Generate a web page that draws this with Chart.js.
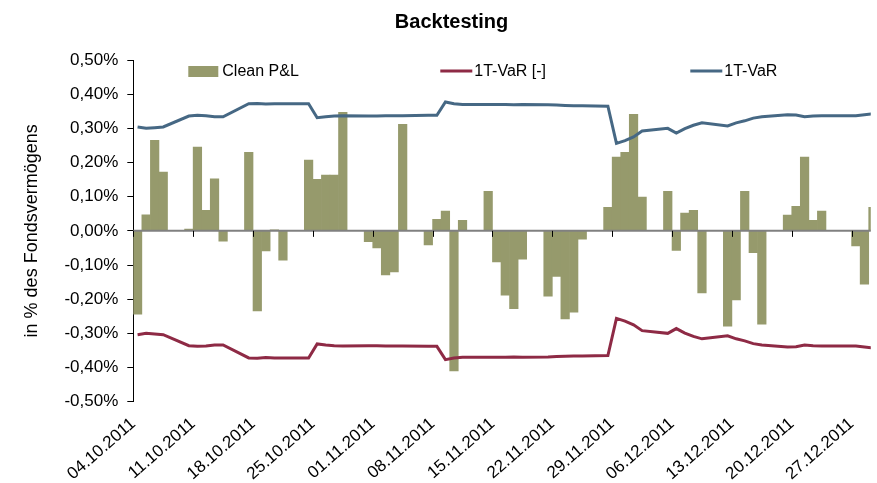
<!DOCTYPE html>
<html>
<head>
<meta charset="utf-8">
<script src="https://cdn.jsdelivr.net/npm/chart.js@4.4.0/dist/chart.umd.min.js"></script>
<style>
html, body { margin: 0; padding: 0; background: #ffffff; }
canvas { display: block; }
</style>
</head>
<body>
<canvas id="c" width="877" height="483"></canvas>
<script>
// ---------- DATA ----------
const startDate = '04.10.2011';
const dates = [
  '04.10.2011','05.10.2011','06.10.2011','07.10.2011','10.10.2011','11.10.2011','12.10.2011','13.10.2011','14.10.2011',
  '17.10.2011','18.10.2011','19.10.2011','20.10.2011','21.10.2011','24.10.2011','25.10.2011','26.10.2011','27.10.2011',
  '28.10.2011','31.10.2011',
  '01.11.2011','02.11.2011','03.11.2011','04.11.2011','07.11.2011','08.11.2011','09.11.2011','10.11.2011','11.11.2011',
  '14.11.2011','15.11.2011','16.11.2011','17.11.2011','18.11.2011','21.11.2011','22.11.2011','23.11.2011','24.11.2011',
  '25.11.2011','28.11.2011','29.11.2011','30.11.2011',
  '01.12.2011','02.12.2011','05.12.2011','06.12.2011','07.12.2011','08.12.2011','09.12.2011','12.12.2011','13.12.2011',
  '14.12.2011','15.12.2011','16.12.2011','19.12.2011','20.12.2011','21.12.2011','22.12.2011','23.12.2011','27.12.2011',
  '28.12.2011','29.12.2011'
];
const cleanPL = [
  -0.244, 0.047, 0.265, 0.172, 0.005, 0.245, 0.060, 0.152, -0.030,
  0.230, -0.234, -0.059, 0.003, -0.086, 0.207, 0.151, 0.163, 0.163,
  0.347, -0.032,
  -0.050, -0.129, -0.120, 0.312, -0.041, 0.034, 0.058, -0.410, 0.031,
  0.116, -0.091, -0.188, -0.228, -0.083, -0.191, -0.133, -0.258, -0.238,
  -0.024, 0.069, 0.216, 0.230,
  0.341, 0.099, 0.116, -0.057, 0.052, 0.060, -0.182, -0.279, -0.202,
  0.116, -0.064, -0.273, 0.046, 0.072, 0.216, 0.031, 0.058, -0.044,
  -0.156, 0.069
];
const var1T = [
  0.304, 0.300, 0.302, 0.304, 0.336, 0.338, 0.337, 0.334, 0.334,
  0.372, 0.373, 0.371, 0.372, 0.372, 0.372, 0.331, 0.334, 0.336,
  0.337, 0.336,
  0.336, 0.337, 0.337, 0.337, 0.338, 0.338, 0.377, 0.372, 0.370,
  0.370, 0.370, 0.370, 0.369, 0.370, 0.369, 0.368, 0.367, 0.366,
  0.366, 0.365, 0.256, 0.264,
  0.275, 0.292, 0.300, 0.286, 0.299, 0.309, 0.316, 0.307, 0.316,
  0.322, 0.330, 0.334, 0.340, 0.339, 0.334, 0.336, 0.337, 0.337,
  0.340, 0.343
];
const var1TNeg = [
  -0.304, -0.300, -0.302, -0.304, -0.336, -0.338, -0.337, -0.334, -0.334,
  -0.372, -0.373, -0.371, -0.372, -0.372, -0.372, -0.331, -0.334, -0.336,
  -0.337, -0.336,
  -0.336, -0.337, -0.337, -0.337, -0.338, -0.338, -0.377, -0.372, -0.370,
  -0.370, -0.370, -0.370, -0.369, -0.370, -0.369, -0.368, -0.367, -0.366,
  -0.366, -0.365, -0.256, -0.264,
  -0.275, -0.292, -0.300, -0.286, -0.299, -0.309, -0.316, -0.307, -0.316,
  -0.322, -0.330, -0.334, -0.340, -0.339, -0.334, -0.336, -0.337, -0.337,
  -0.340, -0.343
];
const tickLabels = [
  '04.10.2011','11.10.2011','18.10.2011','25.10.2011','01.11.2011','08.11.2011','15.11.2011',
  '22.11.2011','29.11.2011','06.12.2011','13.12.2011','20.12.2011','27.12.2011'
];
const seriesNames = ['Clean P&L', '1T-VaR [-]', '1T-VaR'];

// ---------- HELPERS ----------
function toUTC(s) { const [d, m, y] = s.split('.').map(Number); return Date.UTC(y, m - 1, d); }
const t0 = toUTC(startDate);
function dayOffset(s) { return Math.round((toUTC(s) - t0) / 86400000); }
const tickValues = tickLabels.map(dayOffset);
const tickTextByValue = {};
tickLabels.forEach((l, i) => { tickTextByValue[tickValues[i]] = l; });

const FONT = '"Liberation Sans", Arial, Helvetica, sans-serif';
Chart.defaults.font.family = FONT;
Chart.defaults.color = '#000000';

const COL_BAR = '#969A6C';
const COL_RED = '#8E2A45';
const COL_BLUE = '#466884';

const overlay = {
  id: 'overlay',
  afterDatasetsDraw(chart) {
    const { ctx, chartArea: a, scales } = chart;
    const x = scales.x, y = scales.y;
    const y0 = y.getPixelForValue(0);
    ctx.save();
    ctx.strokeStyle = '#808080';
    ctx.lineWidth = 2;
    ctx.beginPath();
    ctx.moveTo(a.left, y0);
    ctx.lineTo(a.right, y0);
    ctx.stroke();
    ctx.strokeStyle = '#000000';
    ctx.lineWidth = 1;
    x.ticks.forEach(t => {
      const px = Math.round(x.getPixelForValue(t.value)) + 0.5;
      ctx.beginPath();
      ctx.moveTo(px, y0);
      ctx.lineTo(px, y0 + 6);
      ctx.stroke();
    });
    ctx.restore();
  },
  afterDraw(chart) {
    const { ctx, chartArea: a } = chart;
    const ds = chart.data.datasets;
    const cy = a.top + 11;
    const items = [
      { dx: 55, kind: 'box' },
      { dx: 307, kind: 'line' },
      { dx: 557, kind: 'line' }
    ];
    ctx.save();
    ctx.font = '16px ' + FONT;
    ctx.textBaseline = 'middle';
    ctx.textAlign = 'left';
    items.forEach((it, i) => {
      const x0 = a.left + it.dx;
      const d = ds[i];
      if (it.kind === 'box') {
        ctx.fillStyle = d.backgroundColor;
        ctx.fillRect(x0, cy - 5, 30, 11);
      } else {
        ctx.strokeStyle = d.borderColor;
        ctx.lineWidth = 3;
        ctx.beginPath();
        ctx.moveTo(x0, cy);
        ctx.lineTo(x0 + 32, cy);
        ctx.stroke();
      }
      ctx.fillStyle = '#000000';
      ctx.fillText(d.label, x0 + 34, cy + 1);
    });
    ctx.restore();
  }
};

new Chart(document.getElementById('c'), {
  type: 'bar',
  data: {
    datasets: [
      {
        type: 'bar',
        label: seriesNames[0],
        data: dates.map((d, i) => ({ x: dayOffset(d) + 0.5, y: cleanPL[i] })),
        backgroundColor: COL_BAR,
        borderWidth: 0,
        barPercentage: 1,
        categoryPercentage: 1,
        order: 3
      },
      {
        type: 'line',
        label: seriesNames[1],
        data: dates.map((d, i) => ({ x: dayOffset(d) + 0.5, y: var1TNeg[i] })),
        borderColor: COL_RED,
        backgroundColor: COL_RED,
        borderWidth: 3,
        pointRadius: 0,
        tension: 0,
        fill: false,
        order: 2
      },
      {
        type: 'line',
        label: seriesNames[2],
        data: dates.map((d, i) => ({ x: dayOffset(d) + 0.5, y: var1T[i] })),
        borderColor: COL_BLUE,
        backgroundColor: COL_BLUE,
        borderWidth: 3,
        pointRadius: 0,
        tension: 0,
        fill: false,
        order: 1
      }
    ]
  },
  options: {
    responsive: false,
    animation: false,
    devicePixelRatio: 1,
    layout: { padding: { left: 26, right: 0, top: 0, bottom: 0 } },
    plugins: {
      legend: { display: false },
      tooltip: { enabled: false },
      title: {
        display: true,
        text: 'Backtesting',
        color: '#000000',
        font: { size: 20, weight: 'bold', family: FONT, lineHeight: 1.2 },
        padding: { top: 10, bottom: 26 }
      }
    },
    scales: {
      x: {
        type: 'linear',
        offset: false,
        min: 0,
        max: 86.24,
        grid: { display: false, drawTicks: false },
        border: { display: false },
        afterBuildTicks(scale) { scale.ticks = tickValues.map(v => ({ value: v })); },
        afterFit(scale) { scale.height = 81.3; },
        ticks: {
          autoSkip: false,
          maxRotation: 41,
          minRotation: 41,
          padding: 12,
          color: '#000000',
          font: { size: 17, family: FONT },
          callback: (v) => tickTextByValue[v] || ''
        }
      },
      y: {
        min: -0.5,
        max: 0.5,
        afterFit(scale) { scale.width = 107.3; },
        grid: { drawOnChartArea: false, drawTicks: true, tickLength: 6, color: '#000000', lineWidth: 1 },
        border: { display: true, color: '#000000', width: 1 },
        ticks: {
          stepSize: 0.1,
          padding: 9,
          color: '#000000',
          font: { size: 17, family: FONT },
          callback: (v) => v.toFixed(2).replace('.', ',') + '%'
        },
        title: {
          display: true,
          text: 'in % des Fondsvermögens',
          color: '#000000',
          font: { size: 18, family: FONT, lineHeight: 1 },
          padding: { top: -3, bottom: 0 }
        }
      }
    }
  },
  plugins: [overlay]
});
</script>
</body>
</html>
